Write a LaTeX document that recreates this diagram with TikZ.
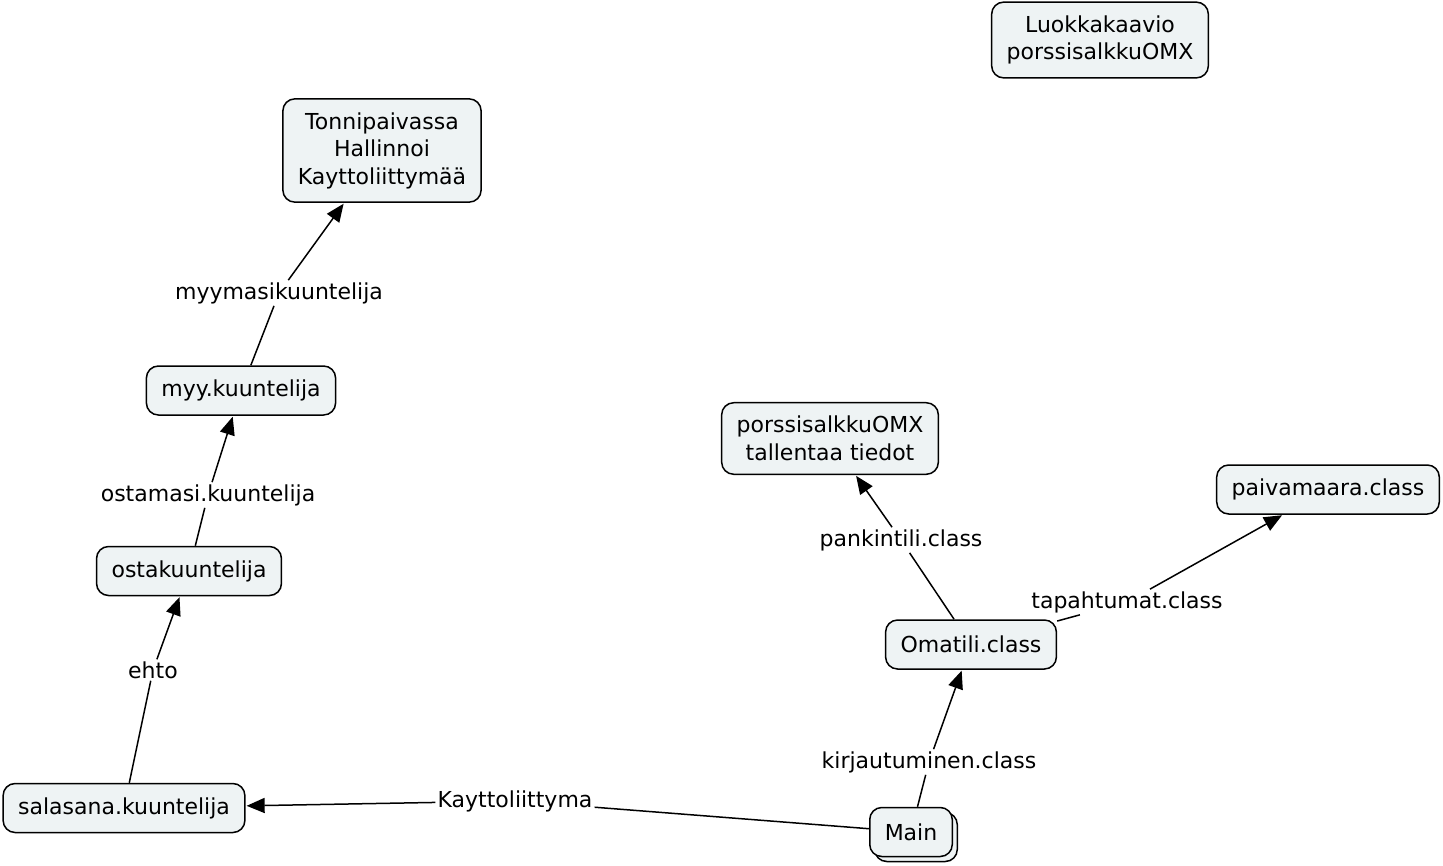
\documentclass[tikz,border=0pt]{standalone}
\usepackage{fontspec}
\setmainfont{DejaVu Sans}
\usetikzlibrary{arrows.meta,shadows}
\definecolor{boxfill}{RGB}{238,243,244}
\tikzset{
  concept/.style={draw=black, line width=1.5pt, fill=boxfill, rounded corners=12pt,
    font=\fontsize{22}{27.5}\selectfont, align=center, inner xsep=15pt, inner ysep=13.5pt,
    minimum height=49pt, text=black},
  phrase/.style={fill=white, inner sep=2pt, font=\fontsize{22}{27.5}\selectfont, text=black},
  link/.style={line width=1.5pt, draw=black},
  linkarrow/.style={link, -{Triangle[length=18pt,width=15pt]}, shorten >=1pt}
}
\begin{document}
\begin{tikzpicture}[x=1pt,y=-1pt]
\useasboundingbox[fill=white] (0,0) rectangle (1443,865);
% concepts
\node[concept] (luokka) at (1100,40) {Luokkakaavio\\porssisalkkuOMX};
\node[concept] (tonni) at (382,150.5) {Tonnipaivassa\\Hallinnoi\\Kayttoliittymää};
\node[concept] (myy) at (241,390.5) {myy.kuuntelija};
\node[concept] (osta) at (189,571) {ostakuuntelija};
\node[concept] (salasana) at (124,808) {salasana.kuuntelija};
\node[concept] (porssi) at (830,438.5) {porssisalkkuOMX\\tallentaa tiedot};
\node[concept] (paiva) at (1328,489.5) {paivamaara.class};
\node[concept] (omatili) at (971,644.5) {Omatili.class};
\node[concept, copy shadow={shadow xshift=5pt, shadow yshift=-5pt}] (main) at (911,832) {Main};
% linking phrases
\node[phrase] (l1) at (279,293) {myymasikuuntelija};
\node[phrase] (l2) at (208,495) {ostamasi.kuuntelija};
\node[phrase] (l3) at (153,670) {ehto};
\node[phrase] (l4) at (515,801) {Kayttoliittyma};
\node[phrase] (l5) at (929,762) {kirjautuminen.class};
\node[phrase] (l6) at (901,540) {pankintili.class};
\node[phrase] (l7) at (1127,602) {tapahtumat.class};
% connectors
\draw[link] (myy) -- (l1);
\draw[linkarrow] (l1) -- (tonni);
\draw[link] (osta) -- (l2);
\draw[linkarrow] (l2) -- (myy);
\draw[link] (salasana) -- (l3);
\draw[linkarrow] (l3) -- (osta);
\draw[link] (main) -- (l4);
\draw[linkarrow] (l4) -- (salasana);
\draw[link] (main) -- (l5);
\draw[linkarrow] (l5) -- (omatili);
\draw[link] (omatili) -- (l6);
\draw[linkarrow] (l6) -- (porssi);
\draw[link] (omatili) -- (l7);
\draw[linkarrow] (l7) -- (paiva);
\end{tikzpicture}
\end{document}
